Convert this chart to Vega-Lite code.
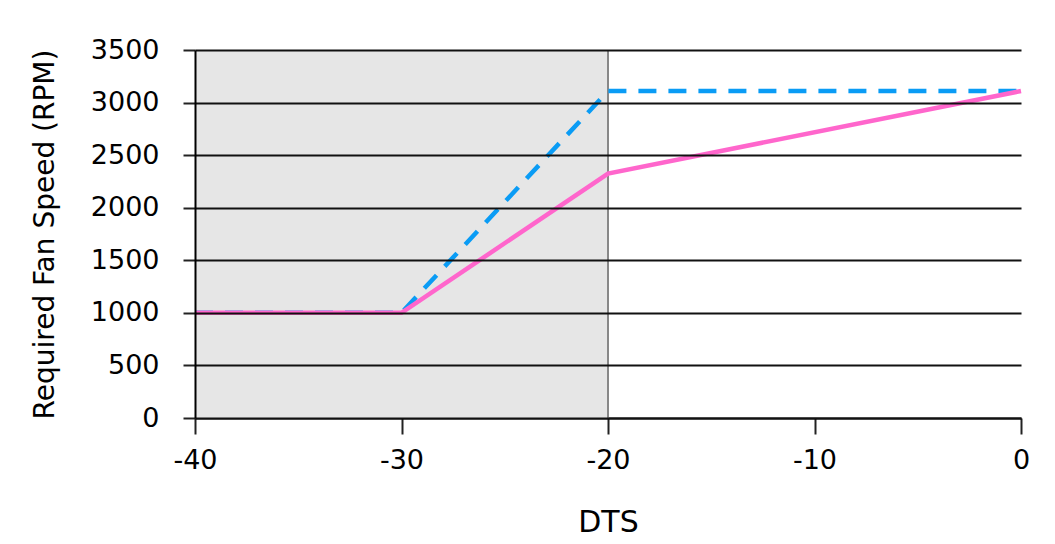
{
  "$schema": "https://vega.github.io/schema/vega-lite/v6.json",
  "width": 826,
  "height": 368,
  "autosize": "none",
  "padding": {"left": 195, "top": 50, "right": 34, "bottom": 126},
  "background": "white",
  "config": {
    "view": {"stroke": null},
    "font": "DejaVu Sans",
    "axis": {"labelFont": "DejaVu Sans", "titleFont": "DejaVu Sans", "labelColor": "black", "titleColor": "black", "titleFontWeight": "normal"}
  },
  "datasets": {
    "lines": [
      {"dts": -40, "rpm": 1000, "series": "pink"},
      {"dts": -30, "rpm": 1000, "series": "pink"},
      {"dts": -20, "rpm": 2325, "series": "pink"},
      {"dts": 0, "rpm": 3110, "series": "pink"},
      {"dts": -40, "rpm": 1000, "series": "blue"},
      {"dts": -30, "rpm": 1000, "series": "blue"},
      {"dts": -20, "rpm": 3110, "series": "blue"},
      {"dts": 0, "rpm": 3110, "series": "blue"}
    ],
    "region": [{"x1": -40, "x2": -20, "y1": 0, "y2": 3500}]
  },
  "layer": [
    {
      "data": {"name": "region"},
      "mark": {"type": "rect", "fill": "#e6e6e6", "stroke": null},
      "encoding": {
        "x": {"field": "x1", "type": "quantitative", "scale": {"domain": [-40, 0], "nice": false}, "axis": {
          "values": [-40, -30, -20, -10, 0], "grid": false, "domainColor": "black", "domainWidth": 2, "tickColor": "#222", "tickWidth": 2, "tickSize": 16,
          "labelExpr": "'' + datum.value",
          "labelFontSize": 27, "labelPadding": 13, "title": "DTS", "titleFontSize": 30, "titlePadding": 34, "labelFlush": false, "labelOverlap": false
        }},
        "x2": {"field": "x2"},
        "y": {"field": "y1", "type": "quantitative", "scale": {"domain": [0, 3500], "nice": false}, "axis": {
          "values": [0, 500, 1000, 1500, 2000, 2500, 3000, 3500], "grid": true, "gridColor": "#111", "gridWidth": 2, "zindex": 1,
          "labelExpr": "'' + datum.value",
          "domainColor": "black", "domainWidth": 2, "tickColor": "#222", "tickWidth": 2, "tickSize": 12,
          "labelFontSize": 27, "labelPadding": 24, "title": "Required Fan Speed (RPM)", "titleFontSize": 28, "titlePadding": 31, "labelFlush": false, "labelOverlap": false
        }},
        "y2": {"field": "y2"}
      }
    },
    {
      "data": {"name": "region"},
      "mark": {"type": "rule", "color": "#888888", "strokeWidth": 2},
      "encoding": {
        "x": {"field": "x2", "type": "quantitative"},
        "y": {"field": "y1", "type": "quantitative"},
        "y2": {"field": "y2"}
      }
    },
    {
      "data": {"name": "lines"},
      "transform": [{"filter": "datum.series === 'blue'"}],
      "mark": {"type": "line", "color": "#0a9cf5", "strokeWidth": 4.5, "strokeDash": [18, 12]},
      "encoding": {
        "x": {"field": "dts", "type": "quantitative"},
        "y": {"field": "rpm", "type": "quantitative"}
      }
    },
    {
      "data": {"name": "lines"},
      "transform": [{"filter": "datum.series === 'pink'"}],
      "mark": {"type": "line", "color": "#ff66cc", "strokeWidth": 4.5},
      "encoding": {
        "x": {"field": "dts", "type": "quantitative"},
        "y": {"field": "rpm", "type": "quantitative"}
      }
    }
  ]
}
